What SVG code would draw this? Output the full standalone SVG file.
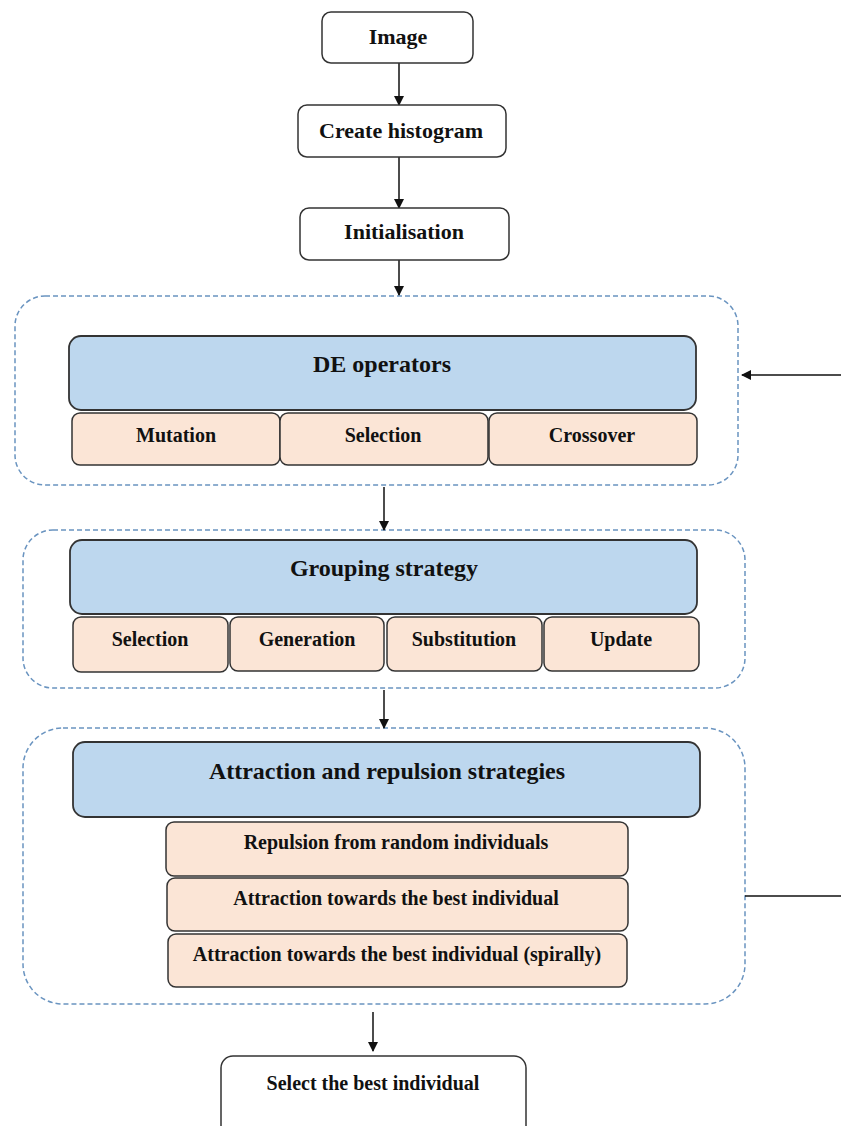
<svg xmlns="http://www.w3.org/2000/svg" width="841" height="1126" viewBox="0 0 841 1126">
<style>
text{font-family:"Liberation Serif","Times New Roman",serif;font-weight:bold;fill:#111;text-anchor:middle}
.w{fill:#fff;stroke:#333;stroke-width:1.5}
.b{fill:#BDD7EE;stroke:#333;stroke-width:1.8}
.p{fill:#FBE5D6;stroke:#333;stroke-width:1.5}
.c{fill:none;stroke:#6A94C0;stroke-width:1.5;stroke-dasharray:5 3}
.t22{font-size:22px}.t24{font-size:24px}.t20{font-size:20px}
.ln{stroke:#111;stroke-width:1.5;fill:none}
</style>
<defs>
<marker id="ah" markerWidth="10" markerHeight="10" refX="9" refY="5" orient="auto" markerUnits="userSpaceOnUse">
<path d="M0,0 L10,5 L0,10 z" fill="#111"/>
</marker>
</defs>
<g id="containers">
<rect id="c-de" class="c" x="15" y="296" width="723" height="189" rx="30"/>
<rect id="c-group" class="c" x="23" y="530" width="722" height="158" rx="30"/>
<rect id="c-attr" class="c" x="23" y="728" width="722" height="276" rx="40"/>
</g>
<g id="connectors">
<line class="ln" x1="399" y1="63" x2="399" y2="105" marker-end="url(#ah)"/>
<line class="ln" x1="399" y1="157" x2="399" y2="208" marker-end="url(#ah)"/>
<line class="ln" x1="399" y1="260" x2="399" y2="295" marker-end="url(#ah)"/>
<line class="ln" x1="841" y1="375" x2="742" y2="375" marker-end="url(#ah)"/>
<line class="ln" x1="384" y1="487" x2="384" y2="530" marker-end="url(#ah)"/>
<line class="ln" x1="384" y1="690" x2="384" y2="728" marker-end="url(#ah)"/>
<line class="ln" x1="745" y1="896" x2="841" y2="896"/>
<line class="ln" x1="373" y1="1012" x2="373" y2="1051" marker-end="url(#ah)"/>
</g>
<g id="n-image"><rect class="w" x="322" y="12" width="151" height="51" rx="9"/><text class="t22" x="398" y="44">Image</text></g>
<g id="n-hist"><rect class="w" x="298" y="105" width="208" height="52" rx="9"/><text class="t22" x="401" y="138">Create histogram</text></g>
<g id="n-init"><rect class="w" x="300" y="208" width="209" height="52" rx="9"/><text class="t22" x="404" y="239">Initialisation</text></g>
<g id="n-de"><rect class="b" x="69" y="336" width="627" height="74" rx="12"/><text class="t24" x="382" y="372">DE operators</text></g>
<g id="n-mut"><rect class="p" x="72" y="413" width="208" height="52" rx="8"/><text class="t20" x="176" y="442">Mutation</text></g>
<g id="n-sel1"><rect class="p" x="280" y="413" width="208" height="52" rx="8"/><text class="t20" x="383" y="442">Selection</text></g>
<g id="n-cross"><rect class="p" x="489" y="413" width="208" height="52" rx="8"/><text class="t20" x="592" y="442">Crossover</text></g>
<g id="n-group"><rect class="b" x="70" y="540" width="627" height="74" rx="12"/><text class="t24" x="384" y="576">Grouping strategy</text></g>
<g id="n-sel2"><rect class="p" x="73" y="617" width="155" height="55" rx="8"/><text class="t20" x="150" y="646">Selection</text></g>
<g id="n-gen"><rect class="p" x="230" y="617" width="154" height="54" rx="8"/><text class="t20" x="307" y="646">Generation</text></g>
<g id="n-sub"><rect class="p" x="387" y="617" width="155" height="54" rx="8"/><text class="t20" x="464" y="646">Substitution</text></g>
<g id="n-upd"><rect class="p" x="544" y="617" width="155" height="54" rx="8"/><text class="t20" x="621" y="646">Update</text></g>
<g id="n-attr"><rect class="b" x="73" y="742" width="627" height="75" rx="12"/><text class="t24" x="387" y="779">Attraction and repulsion strategies</text></g>
<g id="n-rep"><rect class="p" x="166" y="822" width="462" height="54" rx="8"/><text class="t20" x="396" y="849">Repulsion from random individuals</text></g>
<g id="n-att1"><rect class="p" x="167" y="878" width="461" height="53" rx="8"/><text class="t20" x="396" y="905">Attraction towards the best individual</text></g>
<g id="n-att2"><rect class="p" x="168" y="934" width="459" height="53" rx="8"/><text class="t20" x="397" y="961">Attraction towards the best individual (spirally)</text></g>
<g id="n-best"><rect class="w" x="221" y="1056" width="305" height="90" rx="12"/><text class="t20" x="373" y="1090">Select the best individual</text></g>
</svg>
